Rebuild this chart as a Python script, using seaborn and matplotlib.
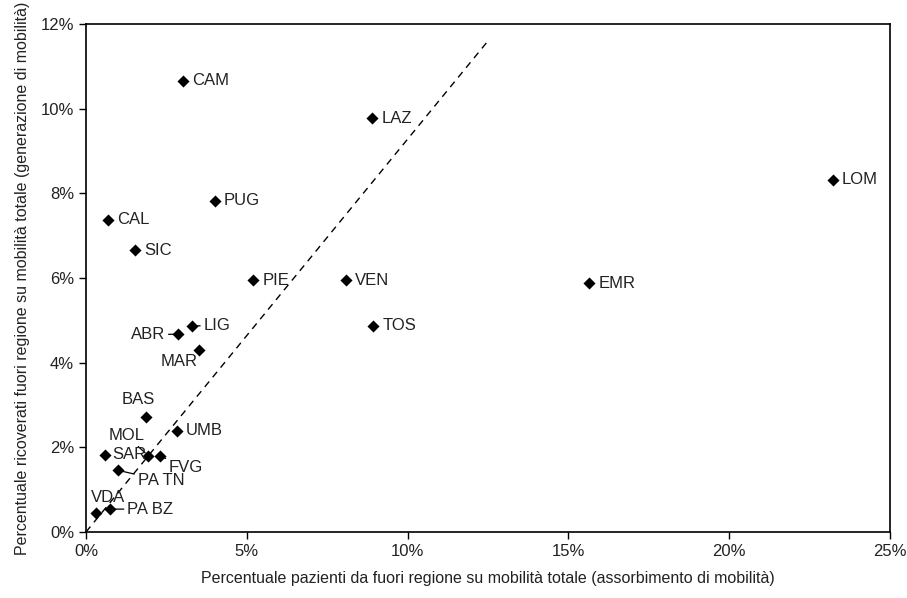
import matplotlib
matplotlib.use("Agg")
import matplotlib.pyplot as plt
import seaborn as sns
import pandas as pd
from matplotlib.ticker import PercentFormatter

# values (percent)
regioni = ["CAM", "LAZ", "LOM", "EMR", "PUG", "CAL", "SIC", "PIE", "VEN", "TOS",
           "ABR", "LIG", "MAR", "BAS", "UMB", "MOL", "FVG", "SAR", "PA TN", "VDA", "PA BZ"]
assorbimento = [3.03, 8.90, 23.23, 15.65, 4.01, 0.68, 1.52, 5.20, 8.07, 8.93,
                2.87, 3.31, 3.51, 1.86, 2.82, 1.94, 2.30, 0.59, 0.98, 0.31, 0.75]
generazione = [10.66, 9.77, 8.32, 5.87, 7.83, 7.37, 6.66, 5.95, 5.95, 4.87,
               4.67, 4.87, 4.30, 2.72, 2.39, 1.80, 1.80, 1.82, 1.46, 0.44, 0.54]

# dashed reference line
linea_x = [0, 12.5]
linea_y = [0, 11.6]

df = pd.DataFrame({"regione": regioni, "x": assorbimento, "y": generazione})

sns.set_style("white")
plt.rcParams["font.family"] = ["Liberation Sans Narrow", "Liberation Sans", "DejaVu Sans"]

fig = plt.figure(figsize=(9.07, 5.98), dpi=100)
ax = fig.add_axes([0.0948, 0.1104, 0.8865, 0.8495])

ax.plot(linea_x, linea_y, color="black", linestyle=(0, (5, 4)), lw=1)
sns.scatterplot(data=df, x="x", y="y", marker="D", color="black", s=38,
                edgecolor="black", linewidth=0, ax=ax, zorder=3)

# label placement: (ha, dx, dy, leader)
posizioni = {
    "ABR": ("right", -13, 0, True),
    "LIG": ("left", 11, 0, True),
    "MAR": ("center", -20, -12, False),
    "BAS": ("center", -8, 17, False),
    "MOL": ("center", -22, 20, True),
    "SAR": ("left", 7, 0, False),
    "FVG": ("left", 9, -12, True),
    "PA TN": ("left", 20, -10, True),
    "VDA": ("center", 12, 16, False),
    "PA BZ": ("left", 17, 0, True),
}

for r, xx, yy in zip(regioni, assorbimento, generazione):
    ha, dx, dy, leader = posizioni.get(r, ("left", 9, 0, False))
    arrow = None
    if leader:
        arrow = dict(arrowstyle="-", color="black", lw=0.9, shrinkA=0, shrinkB=3)
    ax.annotate(r, (xx, yy), xytext=(dx, dy), textcoords="offset pixels",
                ha=ha, va="center", fontsize=12, color="#222222",
                arrowprops=arrow)

ax.set_xlim(0, 25)
ax.set_ylim(0, 12)
ax.set_xticks([0, 5, 10, 15, 20, 25])
ax.set_yticks([0, 2, 4, 6, 8, 10, 12])
ax.xaxis.set_major_formatter(PercentFormatter(decimals=0))
ax.yaxis.set_major_formatter(PercentFormatter(decimals=0))
ax.tick_params(axis="both", direction="out", length=5, width=1, labelsize=12,
               bottom=True, left=True, colors="black", labelcolor="#222222")

for s in ax.spines.values():
    s.set_color("black")
    s.set_linewidth(1.2)

ax.set_xlabel("Percentuale pazienti da fuori regione su mobilità totale (assorbimento di mobilità)",
              fontsize=11.5, color="#222222", labelpad=9)
ax.set_ylabel("Percentuale ricoverati fuori regione su mobilità totale (generazione di mobilità)",
              fontsize=11.5, color="#222222", labelpad=8)

fig.savefig("out.png", dpi=100)
